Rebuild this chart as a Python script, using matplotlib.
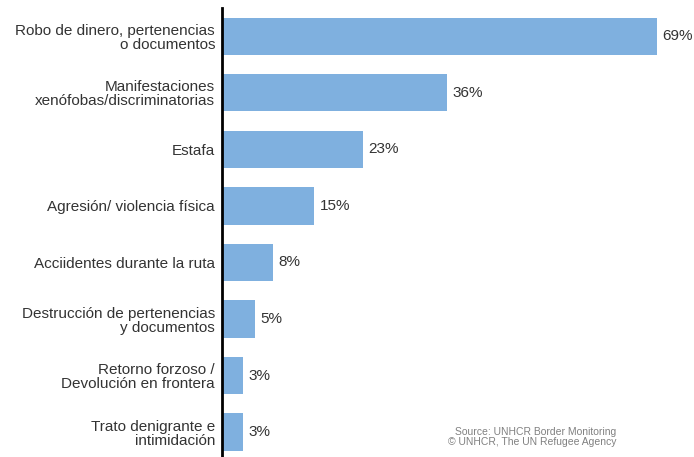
import matplotlib.pyplot as plt

plt.rcParams['font.family'] = ['Liberation Sans', 'DejaVu Sans']

# datos
categorias = [
    "Robo de dinero, pertenencias\no documentos",
    "Manifestaciones\nxenófobas/discriminatorias",
    "Estafa",
    "Agresión/ violencia física",
    "Acciidentes durante la ruta",
    "Destrucción de pertenencias\ny documentos",
    "Retorno forzoso /\nDevolución en frontera",
    "Trato denigrante e\nintimidación",
]
valores = [69, 35.7, 22.4, 14.6, 8.1, 5.3, 3.4, 3.4]
etiquetas = ["69%", "36%", "23%", "15%", "8%", "5%", "3%", "3%"]

fig = plt.figure(figsize=(6.94, 4.57), dpi=100)
ax = fig.add_axes([222 / 694, 0, 458 / 694, 449 / 457])

pos = list(range(len(valores)))
ax.barh(pos, valores, height=0.66, color="#7FB0DF", edgecolor="none")

for p, v, t in zip(pos, valores, etiquetas):
    ax.text(v + 0.85, p, t, va="center", ha="left", fontsize=11, color="#333333")

ax.set_xlim(0, 72.6)
ax.set_ylim(7.44, -0.5)
ax.set_yticks(pos)
ax.set_yticklabels(categorias, fontsize=11, color="#333333", linespacing=1.0)
ax.tick_params(axis="y", length=0, pad=5)
ax.set_xticks([])

for s in ["top", "right", "bottom"]:
    ax.spines[s].set_visible(False)
ax.spines["left"].set_linewidth(2)
ax.spines["left"].set_color("black")

fig.text(616 / 694, 1 - 437 / 457, "Source: UNHCR Border Monitoring\n© UNHCR, The UN Refugee Agency",
         ha="right", va="center", fontsize=7.5, color="#808080", linespacing=0.95)

fig.savefig("out.png", dpi=100)
